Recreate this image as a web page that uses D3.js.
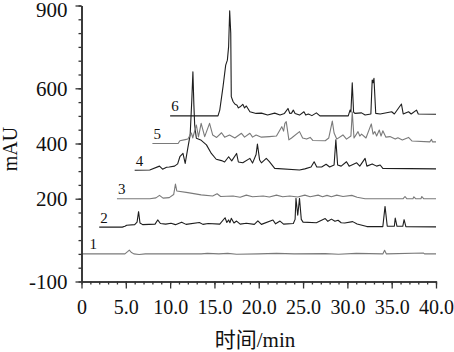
<!DOCTYPE html>
<html><head><meta charset="utf-8">
<script src="https://cdn.jsdelivr.net/npm/d3@7"></script>
<style>
html,body{margin:0;padding:0;background:#fff;}
svg{display:block;}
</style></head>
<body><svg id="c" width="454" height="352"></svg>
<script>
// ---- data ----
const traceNames = ["1","2","3","4","5","6"];
const yTickLabels = [900, 600, 400, 200, -100];
const xTickLabels = [0, 5, 10, 15, 20, 25, 30, 35, 40];

const trace1 = [[0,0],[4.9,0],[5.2,8],[5.4,14],[5.6,6],[5.9,0],[6.5,-2],[7.2,0],[13.5,0],[14.2,2],[15.5,0],[16.5,2],[17.5,-1],[20,0],[22,2],[24,0],[27.5,1],[29,-1],[31,2],[34.0,0],[34.2,13],[34.4,0],[38.6,3],[38.7,0],[40,0]];
const trace2 = [[2.0,97],[4.6,97],[4.9,100],[5.1,104],[6.0,106],[6.27,115],[6.44,153],[6.6,112],[6.9,106],[8.3,108],[8.6,123],[8.9,110],[9.5,108],[10.1,111],[10.6,106],[11.3,115],[11.8,107],[13.3,114],[13.7,107],[14.3,110],[15.6,108],[16.2,131],[16.4,114],[16.6,123],[16.75,113],[16.9,129],[17.2,112],[17.5,119],[17.9,108],[18.6,111],[19.5,107],[19.9,120],[20.3,107],[21.6,123],[21.9,109],[22.4,119],[22.8,108],[23.9,110],[24.1,125],[24.2,201],[24.4,140],[24.6,201],[24.8,125],[25.0,115],[26.5,113],[27.5,128],[27.8,118],[28.2,126],[28.6,118],[28.95,122],[29.3,113],[29.7,112],[30.6,117],[31.1,108],[32.2,99],[34.0,99],[34.25,172],[34.5,100],[35.3,100],[35.4,130],[35.6,100],[36.25,100],[36.4,124],[36.6,99],[40,98]];
const trace3 = [[4.0,200],[7.7,200],[8.4,203],[8.8,212],[9.2,202],[9.9,204],[10.4,215],[10.6,253],[10.75,228],[12.0,222],[13.5,214],[14.8,210],[15.3,218],[15.7,208],[17.1,210],[17.9,205],[18.6,213],[19.3,207],[20.5,210],[21.2,206],[22.0,213],[22.7,207],[23.5,210],[24.4,206],[25.2,213],[25.8,207],[26.7,213],[27.2,207],[27.7,212],[28.2,207],[28.8,213],[29.5,208],[30.5,212],[31.1,205],[32.0,200],[36.3,200],[36.5,208],[36.7,200],[37.4,200],[37.5,207],[37.7,200],[38.3,200],[38.4,208],[38.6,200],[40,200]];
const trace4 = [[6.0,303],[7.7,304],[8.8,318],[9.15,307],[9.6,314],[9.9,315],[10.5,318],[10.85,326],[11.1,352],[11.45,364],[11.7,328],[12.0,384],[12.26,431],[12.45,560],[12.57,660],[12.68,540],[12.77,467],[12.96,419],[13.45,413],[14.1,395],[14.65,364],[15.2,343],[15.8,338],[16.15,333],[16.6,352],[16.95,337],[17.5,364],[17.7,333],[18.2,330],[19.0,346],[19.3,329],[19.7,360],[19.85,398],[20.1,340],[20.3,330],[20.85,346],[21.2,334],[21.8,310],[24.6,304],[25.2,308],[25.9,315],[26.25,334],[26.55,315],[27.1,315],[27.6,325],[28.0,315],[28.5,322],[28.7,413],[28.9,322],[29.3,318],[29.9,334],[30.2,318],[31.05,330],[31.4,318],[32.0,346],[32.2,318],[32.8,326],[33.3,318],[33.7,322],[34.0,310],[40,308]];
const trace5 = [[8.0,400],[10.9,400],[11.1,410],[11.7,414],[12.0,416],[12.4,438],[12.55,420],[12.96,467],[13.2,424],[13.5,473],[13.9,425],[14.45,473],[14.8,431],[15.25,422],[15.8,439],[16.15,423],[16.7,431],[17.3,420],[18.05,437],[18.4,423],[19.0,437],[19.3,423],[19.7,431],[20.3,423],[21.2,425],[22.0,427],[22.6,461],[22.8,445],[22.95,473],[23.1,479],[23.4,413],[23.7,420],[24.6,443],[24.95,420],[25.4,416],[25.8,422],[26.1,411],[27.5,410],[27.9,420],[28.3,481],[28.5,438],[28.8,416],[29.5,431],[29.9,416],[30.4,427],[30.55,514],[30.75,420],[31.2,443],[31.4,427],[31.6,434],[32.1,420],[32.7,471],[32.9,434],[33.1,443],[33.3,427],[33.6,449],[33.8,427],[34.0,446],[34.35,423],[34.8,425],[35.4,416],[35.7,421],[36.2,413],[36.9,422],[37.3,409],[39.3,406],[39.5,415],[39.6,406],[40,406]];
const trace6 = [[10.0,500],[15.4,500],[15.6,521],[15.97,606],[16.27,684],[16.46,702],[16.6,751],[16.72,881],[16.84,800],[16.9,570],[17.1,552],[17.3,543],[17.55,539],[17.7,529],[17.9,533],[18.2,542],[18.4,529],[18.6,536],[19.0,515],[19.7,509],[20.3,510],[21.0,503],[21.8,510],[22.4,503],[22.9,509],[23.3,527],[23.5,509],[23.7,510],[23.9,521],[24.1,509],[24.6,503],[25.1,515],[25.3,503],[25.6,507],[26.0,501],[26.5,511],[26.9,500],[30.1,500],[30.3,521],[30.4,514],[30.55,620],[30.7,514],[30.85,509],[31.6,511],[32.0,503],[32.65,507],[32.8,630],[32.9,620],[33.0,636],[33.2,509],[33.7,507],[35.0,515],[35.3,507],[36.1,543],[36.3,507],[36.9,515],[37.2,507],[37.8,521],[38.0,507],[40,506]];
const traces = [trace1, trace2, trace3, trace4, trace5, trace6];

// ---- drawing ----
const svg = d3.select("#c");
const x = d3.scaleLinear().domain([0, 40]).range([81.5, 436]);
const y = d3.scaleLinear().domain([-100, 900]).range([281.5, 5.5]);
const serif = "'Liberation Serif','Times New Roman',serif";
const axisColor = "#333";
const traceColors = ["#7a7a7a", "#1e1e1e", "#7a7a7a", "#1e1e1e", "#7a7a7a", "#1e1e1e"];

const line = d3.line().x(d => x(d[0])).y(d => y(d[1]));
traces.forEach((tr, i) => {
  svg.append("path").datum(tr).attr("d", line)
    .attr("fill", "none").attr("stroke", traceColors[i])
    .attr("stroke-width", 1.1).attr("stroke-linejoin", "round");
  const sx = Math.max(x(tr[0][0]) + 1, 89.5);
  svg.append("text").attr("x", sx).attr("y", y(tr[0][1]) - 4.5)
    .attr("font-family", serif).attr("font-size", 15).attr("fill", "#111")
    .text(traceNames[i]);
});

// x axis
const xMinor = d3.range(0, 41, 1);
const gxm = svg.append("g").attr("transform", "translate(0,281.5)")
  .call(d3.axisBottom(x).tickValues(xMinor).tickSize(3).tickSizeOuter(0).tickFormat(""));
const gx = svg.append("g").attr("transform", "translate(0,281.5)")
  .call(d3.axisBottom(x).tickValues(xTickLabels).tickSize(7).tickSizeOuter(0).tickPadding(11)
    .tickFormat(d => d === 0 ? "0" : d.toFixed(1)));
// y axis
const yMinor = d3.range(-100, 901, 50);
const gym = svg.append("g").attr("transform", "translate(81.5,0)")
  .call(d3.axisLeft(y).tickValues(yMinor).tickSize(3).tickSizeOuter(0).tickFormat(""));
const gy = svg.append("g").attr("transform", "translate(81.5,0)")
  .call(d3.axisLeft(y).tickValues(yTickLabels).tickSize(6).tickSizeOuter(0).tickPadding(8)
    .tickFormat(d => String(d)));

[gxm, gx, gym, gy].forEach(g => {
  g.select(".domain").attr("stroke", axisColor).attr("stroke-width", 1.6);
  g.selectAll(".tick line").attr("stroke", axisColor).attr("stroke-width", 1.3);
  g.selectAll(".tick text").attr("font-family", serif).attr("font-size", 20).attr("fill", "#111");
});
gy.selectAll(".tick text").attr("font-size", 21);
// top label sits slightly below its tick in the reference
gy.selectAll(".tick").filter(d => d === 900).select("text").attr("y", 4);

// axis titles
svg.append("text").attr("transform", "translate(16.5,149) rotate(-90)")
  .attr("text-anchor", "middle").attr("font-family", serif).attr("font-size", 20)
  .attr("fill", "#111").text("mAU");
svg.append("text").attr("x", 255).attr("y", 347).attr("text-anchor", "middle")
  .attr("font-family", "'Liberation Serif','Noto Sans CJK SC',serif").attr("font-size", 21)
  .attr("fill", "#111").text("时间/min");
</script></body></html>
